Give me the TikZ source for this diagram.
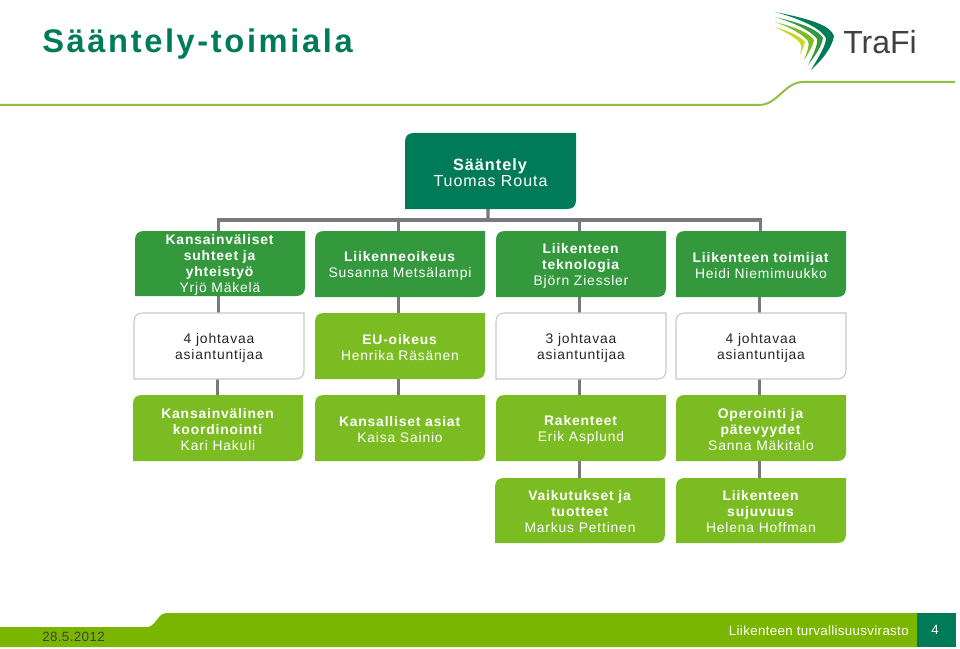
\documentclass[tikz,border=0pt]{standalone}
\usepackage{fontspec}
\setmainfont[LetterSpace=6]{Liberation Sans}
\usetikzlibrary{positioning, calc, backgrounds}
\definecolor{trafiteal}{RGB}{0, 123, 88}
\definecolor{trafigreen}{RGB}{51, 153, 60}
\definecolor{limegreen}{RGB}{122, 188, 34}
\definecolor{footgreen}{RGB}{122, 181, 0}
\definecolor{linegreen}{RGB}{146, 192, 70}
\definecolor{linkgray}{RGB}{120, 120, 125}
\definecolor{edgegray}{RGB}{200, 200, 200}
\newcommand{\orgbox}[8][white]{% text colour, name, x, y, w, h, fill, text
  \path[#7] (#3,#4+#6) -- (#3,#4+9) .. controls (#3,#4+3) and (#3+3,#4) .. (#3+9,#4) -- (#3+#5,#4)
    -- (#3+#5,#4+#6-9) .. controls (#3+#5,#4+#6-3) and (#3+#5-3,#4+#6) .. (#3+#5-9,#4+#6) -- cycle;
  \node[boxtext, text=#1, minimum width=#5*0.75pt, minimum height=#6*0.75pt] (#2) at ($(#3,#4)+(#5/2,#6/2+1.5)$) {#8};
}
\begin{document}
\begin{tikzpicture}[x=0.75pt, y=-0.75pt,
  boxtext/.style={align=center, inner sep=0pt, font=\fontsize{10.4pt}{12pt}\selectfont},
  headfill/.style={fill=trafiteal},
  unitfill/.style={fill=trafigreen},
  subfill/.style={fill=limegreen},
  plainfill/.style={fill=white, draw=edgegray, line width=0.8pt},
  link/.style={draw=linkgray, line width=2.3pt}
]
  \useasboundingbox (0,0) rectangle (960,649);

  % header
  \node[anchor=west, inner sep=0pt, text=trafiteal, font=\fontsize{24.5pt}{28pt}\selectfont\bfseries\addfontfeatures{LetterSpace=8}] (title) at (42,44) {Sääntely-toimiala};
  \draw[linegreen, line width=1.5pt] (0,105) -- (760,105) .. controls (778,104) and (785,82) .. (803,82) -- (955,82);

  % logo
  \fill[trafiteal] (775,12) .. controls (815,20) and (830,26) .. (834,36) .. controls (832,48) and (822,60) .. (811,70) .. controls (818,58) and (826,46) .. (826,38) .. controls (822,30) and (805,20) .. (775,12) -- cycle;
  \fill[trafigreen] (775,17) .. controls (805,24) and (818,30) .. (823,38) .. controls (822,46) and (815,56) .. (808,65) .. controls (813,55) and (818,45) .. (817,39) .. controls (812,32) and (798,24) .. (775,17) -- cycle;
  \fill[limegreen] (775,22) .. controls (798,28) and (809,33) .. (814,40) .. controls (813,46) and (808,54) .. (804,60) .. controls (807,52) and (810,45) .. (808,41) .. controls (803,35) and (792,28) .. (775,22) -- cycle;
  \fill[yellow!60!limegreen] (775,27) .. controls (792,32) and (801,37) .. (805,42) .. controls (804,46) and (802,51) .. (800,55) .. controls (801,50) and (802,46) .. (800,43) .. controls (796,38) and (787,33) .. (775,27) -- cycle;
  \node[anchor=west, inner sep=0pt, text=black!75, font=\fontsize{24pt}{28pt}\selectfont\addfontfeatures{LetterSpace=0}] (logotext) at (843,42) {TraFi};

  % org chart
  \orgbox{head}{405}{133}{171}{76}{headfill}{\fontsize{12.2pt}{14.6pt}\selectfont\textbf{Sääntely}\\\fontsize{12pt}{14.6pt}\selectfont Tuomas Routa}

  \orgbox{intl}{135}{231}{170}{65}{unitfill}{\textbf{Kansainväliset}\\\textbf{suhteet ja}\\\textbf{yhteistyö}\\Yrjö Mäkelä}
  \orgbox{law}{315}{231}{170}{66}{unitfill}{\textbf{Liikenneoikeus}\\Susanna Metsälampi}
  \orgbox{tech}{496}{231}{170}{66}{unitfill}{\textbf{Liikenteen}\\\textbf{teknologia}\\Björn Ziessler}
  \orgbox{actors}{676}{231}{170}{66}{unitfill}{\textbf{Liikenteen toimijat}\\Heidi Niemimuukko}

  \orgbox[black!85]{expa}{134}{313}{170}{66}{plainfill}{4 johtavaa\\asiantuntijaa}
  \orgbox{eu}{315}{313}{170}{66}{subfill}{\textbf{EU-oikeus}\\Henrika Räsänen}
  \orgbox[black!85]{expb}{496}{313}{170}{66}{plainfill}{3 johtavaa\\asiantuntijaa}
  \orgbox[black!85]{expc}{676}{313}{170}{66}{plainfill}{4 johtavaa\\asiantuntijaa}

  \orgbox{coord}{133}{395}{170}{66}{subfill}{\textbf{Kansainvälinen}\\\textbf{koordinointi}\\Kari Hakuli}
  \orgbox{natl}{315}{395}{170}{66}{subfill}{\textbf{Kansalliset asiat}\\Kaisa Sainio}
  \orgbox{infra}{496}{395}{170}{66}{subfill}{\textbf{Rakenteet}\\Erik Asplund}
  \orgbox{oper}{676}{395}{170}{66}{subfill}{\textbf{Operointi ja}\\\textbf{pätevyydet}\\Sanna Mäkitalo}

  \orgbox{effect}{495}{478}{170}{65}{subfill}{\textbf{Vaikutukset ja}\\\textbf{tuotteet}\\Markus Pettinen}
  \orgbox{flow}{676}{478}{170}{65}{subfill}{\textbf{Liikenteen}\\\textbf{sujuvuus}\\Helena Hoffman}

  % connectors
  \begin{scope}[on background layer]
    \coordinate (bus) at (488,220);
    \draw[link] ([xshift=-1.9pt,yshift=3pt]head.south) -- (bus);
    \draw[link] ([xshift=-1.4pt]intl.north) -- ([xshift=-1.4pt]intl.north |- bus) -- ([xshift=-0.7pt]actors.north |- bus) -- ([xshift=-0.7pt]actors.north);
    \draw[link] ([xshift=-1.4pt]law.north) -- ([xshift=-1.4pt]law.north |- bus);
    \draw[link] ([xshift=-1.1pt]tech.north) -- ([xshift=-1.1pt]tech.north |- bus);
    \foreach \a/\b in {intl/expa, law/eu, tech/expb, actors/expc, expa/coord, eu/natl, expb/infra, expc/oper, infra/effect, oper/flow}
      \draw[link] ([xshift=-0.8pt,yshift=3pt]\a.south) -- ([xshift=-0.8pt]\a.south |- \b.north);
  \end{scope}

  % footer
  \fill[footgreen] (0,627) -- (148,627) .. controls (153,626) and (155,622) .. (160,616) .. controls (163,613) and (165,613) .. (172,613) -- (917,613) -- (917,647) -- (0,647) -- cycle;
  \fill[trafiteal] (917,613) rectangle (956,647);
  \node[anchor=west, inner sep=0pt, text=black!75, font=\fontsize{10pt}{12pt}\selectfont\addfontfeatures{LetterSpace=3}] (date) at (42,637) {28.5.2012};
  \node[anchor=east, inner sep=0pt, text=white, font=\fontsize{10pt}{12pt}\selectfont\addfontfeatures{LetterSpace=2.5}] (agency) at (909,631) {Liikenteen turvallisuusvirasto};
  \node[inner sep=0pt, text=white, font=\fontsize{10pt}{12pt}\selectfont] (page) at (935,630) {4};
\end{tikzpicture}
\end{document}
